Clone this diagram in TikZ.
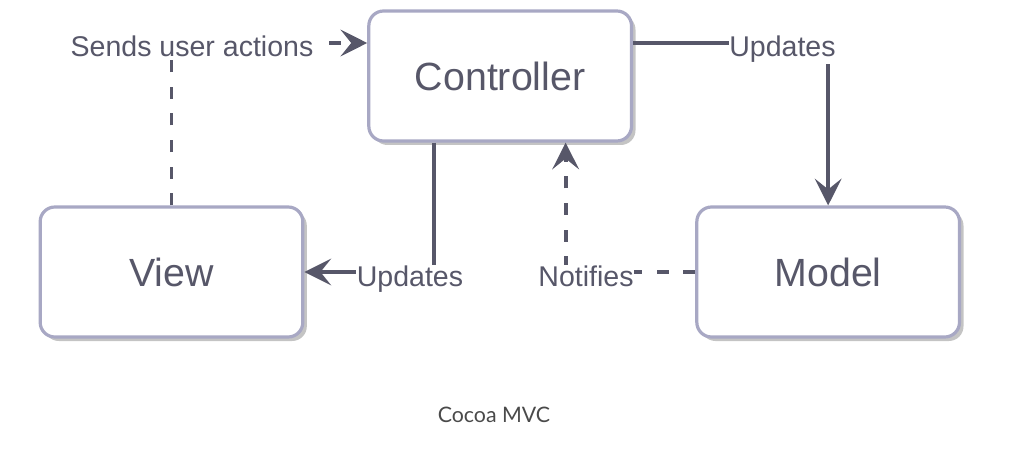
\documentclass[tikz,border=0pt]{standalone}
\usepackage{fontspec}
\setmainfont{Liberation Sans}
\newfontfamily\captionfont{Lato}
\usepackage{tikz}
\usetikzlibrary{calc}
\usetikzlibrary{positioning}
\usetikzlibrary{shadows}
\usetikzlibrary{arrows.meta}
\definecolor{mvcink}{HTML}{575769}
\definecolor{mvcborder}{HTML}{A8A8C4}
\definecolor{mvcshadow}{HTML}{C4C4C4}
\definecolor{captionink}{HTML}{4A4A4A}
\tikzstyle{mvcbox}=[rectangle, rounded corners=11pt, draw=mvcborder, line width=2.4pt, fill=white, minimum width=197pt, minimum height=97.5pt, text=mvcink, font=\fontsize{29.5}{35}\selectfont, drop shadow={shadow xshift=3pt, shadow yshift=-3pt, fill=mvcshadow, opacity=1}]
\tikzstyle{solidedge}=[draw=mvcink, line width=2.8pt, -{Stealth[length=20pt, width=20pt, inset=8pt]}]
\tikzstyle{dashededge}=[solidedge, dash pattern=on 9pt off 11pt]
\tikzstyle{edgelabel}=[anchor=base, fill=white, text=mvcink, inner sep=0.5pt, font=\fontsize{21.4}{25}\selectfont]

\begin{document}
\begin{tikzpicture}[x=0.75pt, y=-0.75pt]
    \useasboundingbox (0,0) rectangle (1026,460);
    % boxes
    \node[mvcbox] (view) at (171.5, 272) {View};
    \node[mvcbox, right=293.1pt of view] (model) {Model};
    \node[mvcbox, above right=47.1pt and 47.1pt of view.north east] (controller) {Controller};
    % connectors
    \draw[dashededge] (view.north) |- ([yshift=24.75pt]controller.west);
    \draw[solidedge] ([yshift=24.75pt]controller.east) -| (model.north);
    \draw[solidedge] ([xshift=-49.9pt]controller.south) |- (view.east);
    \draw[dashededge] (model.west) -| ([xshift=49.1pt]controller.south);
    % labels
    \node[edgelabel] (sendslbl) at (192, 57) {Sends user actions};
    \node[edgelabel] (modellbl) at (782.5, 57) {Updates};
    \node[edgelabel] (viewlbl) at (410, 286) {Updates};
    \node[edgelabel] (notifylbl) at (586, 286) {Notifies};
    \node[text=captionink, font=\captionfont\fontsize{16}{19}\selectfont] (caption) at (494, 415) {Cocoa MVC};
\end{tikzpicture}
\end{document}
